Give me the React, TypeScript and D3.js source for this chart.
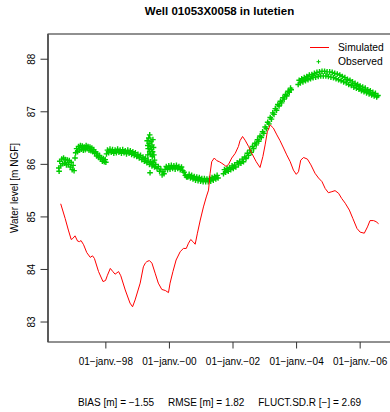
import React from "react";
import * as d3 from "d3";

const title = "Well 01053X0058 in lutetien";
const yLabel = "Water level [m NGF]";
const yTicks = [83, 84, 85, 86, 87, 88];
const xTicks = [1998, 2000, 2002, 2004, 2006];
const xTickLabels = ["01\u2212janv.\u221298", "01\u2212janv.\u221200", "01\u2212janv.\u221202", "01\u2212janv.\u221204", "01\u2212janv.\u221206"];
const statNames = ["BIAS [m]", "RMSE [m]", "FLUCT.SD.R [\u2212]"];
const statValues = ["\u22121.55", "1.82", "2.69"];
const legendNames = ["Simulated", "Observed"];

// [decimal year, water level]
const simulated: [number, number][] = [
  [1996.58,85.25],[1996.72,84.97],[1996.82,84.75],[1996.91,84.57],[1996.96,84.59],[1997.03,84.64],[1997.11,84.54],[1997.17,84.53],[1997.22,84.55],[1997.30,84.47],[1997.40,84.32],[1997.51,84.23],[1997.58,84.26],[1997.64,84.21],[1997.77,83.96],[1997.91,83.77],[1997.99,83.79],[1998.05,83.89],[1998.14,84.02],[1998.22,83.96],[1998.29,83.91],[1998.40,83.96],[1998.47,83.88],[1998.61,83.61],[1998.76,83.36],[1998.84,83.29],[1998.92,83.42],[1999.08,83.74],[1999.18,84.05],[1999.24,84.12],[1999.29,84.15],[1999.37,84.17],[1999.45,84.12],[1999.55,83.93],[1999.65,83.74],[1999.76,83.62],[1999.87,83.60],[1999.97,83.56],[2000.02,83.74],[2000.11,83.96],[2000.21,84.18],[2000.34,84.34],[2000.44,84.40],[2000.53,84.40],[2000.60,84.50],[2000.67,84.57],[2000.74,84.53],[2000.81,84.48],[2000.88,84.69],[2000.97,84.94],[2001.07,85.19],[2001.16,85.38],[2001.23,85.51],[2001.28,85.83],[2001.33,86.05],[2001.41,86.12],[2001.49,86.07],[2001.57,86.05],[2001.65,86.02],[2001.72,85.99],[2001.78,85.96],[2001.86,86.00],[2001.96,86.12],[2002.07,86.21],[2002.17,86.34],[2002.22,86.45],[2002.30,86.53],[2002.38,86.46],[2002.49,86.34],[2002.59,86.21],[2002.73,86.05],[2002.85,85.94],[2002.94,86.15],[2003.01,86.37],[2003.08,86.62],[2003.17,86.75],[2003.27,86.69],[2003.38,86.56],[2003.48,86.45],[2003.59,86.31],[2003.69,86.18],[2003.80,86.05],[2003.90,85.89],[2003.99,85.81],[2004.06,85.86],[2004.13,86.08],[2004.22,86.13],[2004.34,86.10],[2004.45,85.99],[2004.58,85.83],[2004.69,85.74],[2004.80,85.67],[2004.90,85.54],[2005.00,85.46],[2005.11,85.48],[2005.21,85.50],[2005.32,85.45],[2005.42,85.35],[2005.53,85.26],[2005.66,85.13],[2005.77,84.97],[2005.90,84.78],[2006.00,84.71],[2006.13,84.69],[2006.23,84.81],[2006.31,84.93],[2006.42,84.93],[2006.50,84.91],[2006.58,84.87]
];

const observed: [number, number][] = [
  [1996.52,85.93],[1996.53,85.87],[1996.55,86.06],[1996.58,85.97],[1996.61,86.10],[1996.64,86.01],[1996.67,86.12],[1996.70,86.02],[1996.73,86.09],[1996.76,85.99],[1996.79,86.08],[1996.82,86.00],[1996.85,86.07],[1996.88,85.95],[1996.91,86.04],[1996.94,85.90],[1996.97,85.98],[1997.00,85.88],
  [1997.03,86.12],[1997.05,86.22],[1997.08,86.30],[1997.11,86.24],[1997.14,86.34],[1997.17,86.27],[1997.20,86.36],[1997.23,86.29],[1997.26,86.35],[1997.29,86.27],[1997.32,86.33],[1997.35,86.28],[1997.38,86.36],[1997.41,86.30],[1997.44,86.34],[1997.47,86.27],[1997.50,86.33],[1997.53,86.26],[1997.56,86.31],[1997.59,86.24],[1997.62,86.28],[1997.65,86.21],[1997.68,86.24],[1997.71,86.16],[1997.74,86.20],[1997.77,86.13],[1997.80,86.17],[1997.83,86.10],[1997.86,86.13],[1997.89,86.06],[1997.92,86.11],[1997.95,86.05],[1997.98,86.09],[1998.00,86.04],
  [1998.02,86.20],[1998.05,86.27],[1998.09,86.22],[1998.13,86.29],[1998.17,86.23],[1998.21,86.28],[1998.25,86.21],[1998.29,86.27],[1998.33,86.22],[1998.37,86.29],[1998.41,86.23],[1998.45,86.27],[1998.49,86.21],[1998.53,86.28],[1998.57,86.22],[1998.61,86.26],[1998.65,86.20],[1998.69,86.27],[1998.73,86.21],[1998.77,86.26],[1998.81,86.19],[1998.85,86.24],[1998.89,86.17],[1998.93,86.22],[1998.97,86.15],[1999.01,86.19],[1999.05,86.12],[1999.09,86.17],[1999.13,86.09],[1999.17,86.14],[1999.21,86.06],[1999.25,86.11],[1999.29,86.03],[1999.33,86.08],[1999.37,86.00],[1999.41,86.05],[1999.45,85.97],[1999.49,86.03],[1999.53,85.95],[1999.57,86.00],[1999.61,85.92],[1999.65,85.96],[1999.69,85.87],[1999.73,85.91],[1999.77,85.80],[1999.80,85.86],[1999.83,85.82],
  [1999.30,86.45],[1999.32,86.36],[1999.33,86.30],[1999.35,86.50],[1999.36,86.40],[1999.38,86.24],[1999.38,86.56],[1999.40,86.33],[1999.41,86.20],[1999.42,86.44],[1999.44,86.28],[1999.45,86.37],[1999.46,86.15],[1999.47,86.24],[1999.48,86.47],[1999.50,86.32],[1999.51,86.18],[1999.39,85.84],[1999.53,86.08],[1999.32,86.18],
  [1999.86,85.90],[1999.90,85.96],[1999.94,85.90],[1999.98,85.97],[2000.02,85.91],[2000.06,85.98],[2000.10,85.92],[2000.14,85.97],[2000.18,85.91],[2000.22,85.98],[2000.26,85.92],[2000.30,85.96],[2000.34,85.90],[2000.38,85.95],[2000.42,85.88],[2000.46,85.85],[2000.50,85.79],[2000.54,85.76],
  [2000.58,85.76],[2000.62,85.81],[2000.66,85.74],[2000.70,85.79],[2000.74,85.72],[2000.78,85.77],[2000.82,85.70],[2000.86,85.76],[2000.90,85.69],[2000.94,85.75],[2000.98,85.68],[2001.02,85.73],[2001.06,85.67],[2001.10,85.73],[2001.14,85.67],[2001.18,85.72],[2001.22,85.67],[2001.26,85.73],[2001.30,85.68],[2001.34,85.75],[2001.38,85.70],[2001.42,85.77],[2001.46,85.72],[2001.50,85.79],[2001.53,85.74],
  [2001.70,85.82],[2001.73,85.90],[2001.77,85.85],[2001.81,85.92],[2001.85,85.87],[2001.89,85.94],[2001.93,85.90],[2001.97,85.97],[2002.01,85.92],[2002.05,85.99],[2002.09,85.95],[2002.13,86.03],[2002.17,85.99],[2002.21,86.06],[2002.25,86.02],[2002.29,86.10],[2002.33,86.05],[2002.37,86.14],[2002.41,86.11],[2002.45,86.21],[2002.49,86.17],[2002.53,86.27],[2002.57,86.23],[2002.61,86.34],[2002.65,86.30],[2002.69,86.40],[2002.73,86.37],[2002.77,86.47],[2002.81,86.44],[2002.85,86.54],[2002.89,86.51],[2002.93,86.62],[2002.97,86.59],[2003.01,86.71],[2003.05,86.68],[2003.09,86.80],[2003.13,86.77],[2003.17,86.89],[2003.21,86.86],[2003.25,86.98],[2003.29,86.95],[2003.33,87.06],[2003.37,87.03],[2003.41,87.14],[2003.45,87.11],[2003.49,87.20],[2003.53,87.17],[2003.57,87.27],[2003.61,87.24],[2003.65,87.33],[2003.69,87.30],[2003.73,87.39],[2003.77,87.37],[2003.81,87.45],[2003.83,87.42],
  [2004.05,87.52],[2004.08,87.60],[2004.12,87.55],[2004.16,87.63],[2004.20,87.57],[2004.24,87.65],[2004.28,87.59],[2004.32,87.67],[2004.36,87.61],[2004.40,87.70],[2004.44,87.63],[2004.48,87.71],[2004.52,87.65],[2004.56,87.73],[2004.60,87.66],[2004.64,87.75],[2004.68,87.67],[2004.72,87.76],[2004.76,87.68],[2004.80,87.77],[2004.84,87.68],[2004.88,87.77],[2004.92,87.68],[2004.96,87.76],[2005.00,87.67],[2005.04,87.76],[2005.08,87.66],[2005.12,87.75],[2005.16,87.65],[2005.20,87.73],[2005.24,87.63],[2005.28,87.72],[2005.32,87.61],[2005.36,87.70],[2005.40,87.59],[2005.44,87.67],[2005.48,87.57],[2005.52,87.65],[2005.56,87.55],[2005.60,87.62],[2005.64,87.52],[2005.68,87.60],[2005.72,87.50],[2005.76,87.57],[2005.80,87.47],[2005.84,87.54],[2005.88,87.45],[2005.92,87.52],[2005.96,87.43],[2006.00,87.49],[2006.04,87.40],[2006.08,87.47],[2006.12,87.38],[2006.16,87.45],[2006.20,87.36],[2006.24,87.42],[2006.28,87.34],[2006.32,87.40],[2006.36,87.32],[2006.40,87.37],[2006.44,87.30],[2006.48,87.35],[2006.52,87.28],[2006.56,87.31]
];

const W = 390, H = 412;
const plot = { left: 48, right: 391, top: 34, bottom: 342 };
const FONT = "'Liberation Sans', Arial, Helvetica, sans-serif";
const RED = "#ff0000";
const GREEN = "#00cd00";

export default function App() {
  const x = d3.scaleLinear().domain([1996.18, 2006.97]).range([plot.left, plot.right]);
  const y = d3.scaleLinear().domain([82.62, 88.48]).range([plot.bottom, plot.top]);
  const line = d3.line<[number, number]>().x(d => x(d[0])).y(d => y(d[1]));
  const cx = (plot.left + plot.right) / 2;
  const cy = (plot.top + plot.bottom) / 2;
  const plus = (px: number, py: number, s: number) => `M${px - s},${py}H${px + s}M${px},${py - s}V${py + s}`;
  const obsPath = observed.map(d => plus(x(d[0]), y(d[1]), 2.8)).join("");
  const statText = statNames.map((n, i) => `${n} = ${statValues[i]}`).join("     ");

  return (
    <svg width={W} height={H} style={{ position: "absolute", left: 0, top: 0, background: "#fff" }} fontFamily={FONT}>
      <rect x={0} y={0} width={W} height={H} fill="#fff" />
      <text x={cx} y={15} textAnchor="middle" fontWeight="bold" fontSize={11.5}>{title}</text>
      {/* box */}
      <rect x={plot.left} y={plot.top} width={plot.right - plot.left} height={plot.bottom - plot.top} fill="none" stroke="#222" strokeWidth={1} />
      <line x1={plot.left} x2={plot.left} y1={plot.top} y2={plot.bottom} stroke="#555" strokeWidth={1.8} />
      {/* y axis */}
      {yTicks.map(t => (
        <g key={t}>
          <line x1={plot.left - 7.5} x2={plot.left} y1={y(t)} y2={y(t)} stroke="#333" strokeWidth={1} />
          <text transform={`translate(35,${y(t)}) rotate(-90)`} textAnchor="middle" fontSize={10}>{t}</text>
        </g>
      ))}
      <text transform={`translate(17.5,${cy}) rotate(-90)`} textAnchor="middle" fontSize={10}>{yLabel}</text>
      {/* x axis */}
      {xTicks.map((t, i) => (
        <g key={t}>
          <line x1={x(t)} x2={x(t)} y1={plot.bottom} y2={plot.bottom + 6.5} stroke="#333" strokeWidth={1} />
          <text x={x(t)} y={365} textAnchor="middle" fontSize={10}>{xTickLabels[i]}</text>
        </g>
      ))}
      {/* data */}
      <path d={obsPath} stroke={GREEN} strokeWidth={1.4} fill="none" />
      <path d={line(simulated) || ""} stroke={RED} strokeWidth={1} fill="none" />
      {/* legend */}
      <line x1={310} x2={329} y1={47.5} y2={47.5} stroke={RED} strokeWidth={1} />
      <text x={338} y={51.2} fontSize={10.3}>{legendNames[0]}</text>
      <path d={plus(318.5, 61.7, 2)} stroke={GREEN} strokeWidth={1} />
      <text x={338} y={65.4} fontSize={10.3}>{legendNames[1]}</text>
      {/* stats */}
      <text x={cx} y={406} textAnchor="middle" fontSize={10} style={{ whiteSpace: "pre" }}>{statText}</text>
    </svg>
  );
}
